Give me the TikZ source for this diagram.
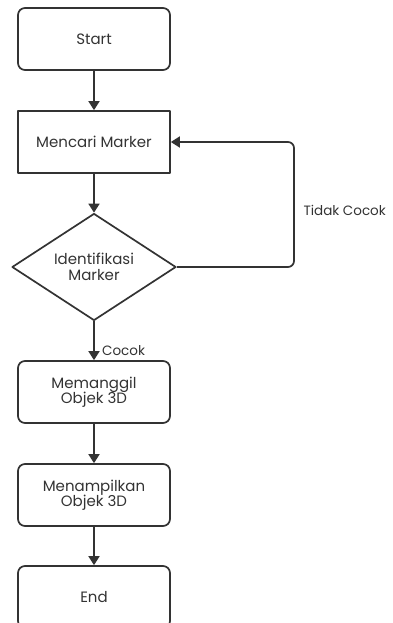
\documentclass[tikz,border=0pt]{standalone}
\usepackage{fontspec}
\setmainfont{Poppins}
\usetikzlibrary{shapes.geometric,arrows.meta}
\definecolor{ink}{HTML}{333333}
\begin{document}
\begin{tikzpicture}[x=1pt,y=-1pt,line join=round,>={Triangle[width=11pt,length=9pt]},
    font=\fontsize{15}{15.5}\selectfont,text=ink,
    rbox/.style={draw=ink,line width=1.7pt,rounded corners=7pt,minimum width=152pt,minimum height=62pt,align=center,inner sep=0pt},
    sbox/.style={rbox,rounded corners=0pt},
    dbox/.style={draw=ink,line width=1.7pt,diamond,minimum width=164pt,minimum height=106pt,inner sep=0pt,align=center},
    flow/.style={->,draw=ink,line width=1.7pt},
    lbl/.style={font=\fontsize{13.5}{15}\selectfont}]
    \useasboundingbox (0,0) rectangle (392,623);
    % boxes
    \node[rbox] (start) at (94,39) {Start};
    \node[sbox] (cari) at (94,142) {Mencari Marker};
    \node[dbox] (ident) at (94,267) {Identifikasi\\Marker};
    \node[rbox] (panggil) at (94,392) {Memanggil\\Objek 3D};
    \node[rbox] (tampil) at (94,495) {Menampilkan\\Objek 3D};
    \node[rbox] (end) at (94,597) {End};
    \coordinate (turn) at (294,142);
    % arrows
    \draw[flow] (start) -- (cari);
    \draw[flow] (cari) -- (ident);
    \draw[flow] (ident) -- (panggil) node[lbl,pos=.75,right=4pt]{Cocok};
    \draw[flow,rounded corners=6pt] (ident.east) -| (turn) -- (cari.east);
    \node[lbl,anchor=west] (tidak) at (300,210) {Tidak Cocok};
    \draw[flow] (panggil) -- (tampil);
    \draw[flow] (tampil) -- (end);
\end{tikzpicture}
\end{document}
